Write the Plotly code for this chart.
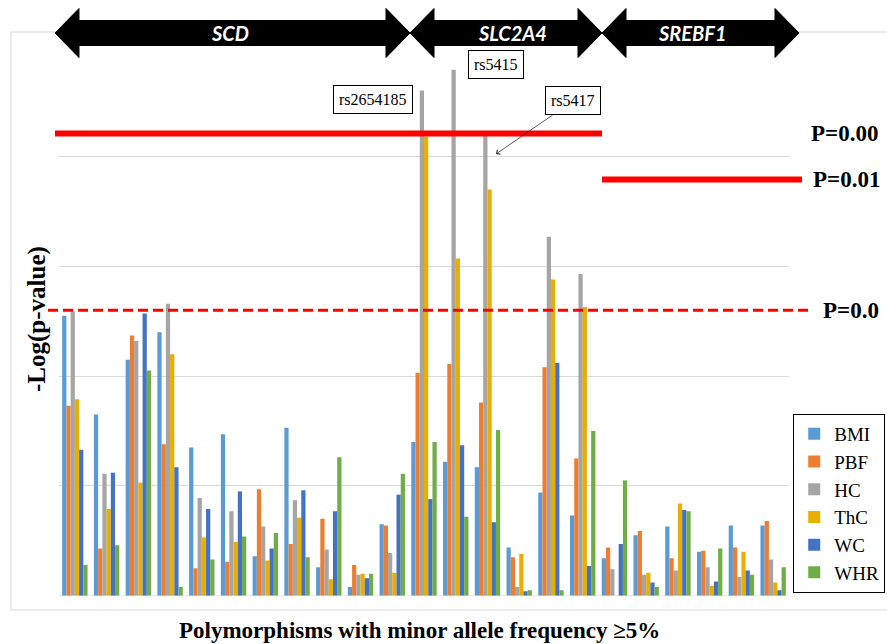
import plotly.graph_objects as go

# ---------------- data ----------------
snps = [f"SNP{i}" for i in range(1, 24)]
traits = ["BMI", "PBF", "HC", "ThC", "WC", "WHR"]
colors = ["#5B9BD5", "#ED7D31", "#A5A5A5", "#E9AE00", "#4472C4", "#70AD47"]

BMI = [2.55, 1.65, 2.15, 2.40, 1.35, 1.47, 0.36, 1.53, 0.26, 0.08, 0.65, 1.40,
       1.22, 1.17, 0.44, 0.94, 0.73, 0.34, 0.55, 0.63, 0.40, 0.64, 0.64]
PBF = [1.73, 0.43, 2.37, 1.38, 0.25, 0.31, 0.97, 0.47, 0.70, 0.28, 0.64, 2.03,
       2.11, 1.76, 0.35, 2.08, 1.25, 0.44, 0.59, 0.34, 0.41, 0.44, 0.68]
HC = [2.59, 1.11, 2.32, 2.66, 0.89, 0.77, 0.63, 0.87, 0.42, 0.19, 0.39, 4.60,
      4.79, 4.20, 0.08, 3.27, 2.93, 0.24, 0.19, 0.23, 0.26, 0.17, 0.33]
ThC = [1.79, 0.79, 1.03, 2.20, 0.53, 0.49, 0.32, 0.71, 0.15, 0.20, 0.21, 4.18,
       3.07, 3.70, 0.38, 2.88, 2.63, 0.00, 0.21, 0.84, 0.09, 0.40, 0.12]
WC = [1.33, 1.12, 2.57, 1.17, 0.79, 0.95, 0.43, 0.96, 0.77, 0.16, 0.92, 0.88,
      1.37, 0.67, 0.04, 2.12, 0.27, 0.47, 0.12, 0.78, 0.13, 0.23, 0.05]
WHR = [0.28, 0.46, 2.05, 0.08, 0.33, 0.54, 0.57, 0.35, 1.26, 0.20, 1.11, 1.40,
       0.72, 1.51, 0.05, 0.05, 1.50, 1.05, 0.08, 0.77, 0.43, 0.19, 0.26]
series = [BMI, PBF, HC, ThC, WC, WHR]

genes = ["SCD", "SLC2A4", "SREBF1"]
threshold_values = [4.21, 3.79, 2.60]
threshold_labels = ["P=0.00", "P=0.01", "P=0.0"]
snp_labels = {12: "rs2654185", 13: "rs5415", 14: "rs5417"}

W, H = 887, 644
def px(x):
    return x / W
def py(y):
    return 1 - y / H

x_idx = list(range(1, len(snps) + 1))

fig = go.Figure()
for name, vals, col in zip(traits, series, colors):
    fig.add_trace(go.Bar(x=x_idx, y=vals, name=name, marker=dict(color=col, line=dict(width=0))))

serif = "Liberation Serif, Times New Roman, serif"

fig.update_layout(
    width=W, height=H,
    margin=dict(l=0, r=0, t=0, b=0),
    paper_bgcolor="white", plot_bgcolor="white",
    barmode="group", bargap=0.2, bargroupgap=0,
    showlegend=True,
    legend=dict(x=0.998, xanchor="right", y=py(414), yanchor="top",
                bordercolor="black", borderwidth=1, bgcolor="white",
                font=dict(family=serif, size=19, color="black"),
                itemwidth=30, tracegroupgap=0),
    xaxis=dict(domain=[px(59), px(789)], range=[0.5, 23.5], showticklabels=False,
               showgrid=False, zeroline=False, showline=False, ticks=""),
    yaxis=dict(domain=[py(595.7), py(46.7)], range=[0, 5], dtick=1, showticklabels=False,
               showgrid=True, gridcolor="#D9D9D9", gridwidth=1, zeroline=False,
               showline=False, ticks=""),
)

# outer chart frame
fig.add_shape(type="rect", xref="paper", yref="paper", x0=px(11), x1=px(900), y0=py(610), y1=py(32),
              line=dict(color="#D9D9D9", width=1), layer="below")
# baseline
fig.add_shape(type="line", xref="x", yref="y", x0=0.5, x1=23.5, y0=0, y1=0,
              line=dict(color="#D9D9D9", width=1), layer="below")

# threshold lines
fig.add_shape(type="line", xref="paper", yref="y", x0=px(55), x1=px(602),
              y0=threshold_values[0], y1=threshold_values[0], line=dict(color="#FF0000", width=6))
fig.add_shape(type="line", xref="paper", yref="y", x0=px(602), x1=px(802),
              y0=threshold_values[1], y1=threshold_values[1], line=dict(color="#FF0000", width=6))
fig.add_shape(type="line", xref="paper", yref="y", x0=px(48), x1=px(810),
              y0=threshold_values[2], y1=threshold_values[2],
              line=dict(color="#FF0000", width=3, dash="10px,5px"))
for val, lab, xl in zip(threshold_values, threshold_labels, [844, 846, 851]):
    fig.add_annotation(xref="paper", yref="y", x=px(xl), y=val, text=f"<b>{lab}</b>",
                       showarrow=False, font=dict(family=serif, size=23, color="black"),
                       xanchor="center", yanchor="middle")

# gene arrows
def arrow_path(L, R, c=33, hh=24.5, sh=12.5, hl=24):
    pts = [(L, c), (L + hl, c - hh), (L + hl, c - sh), (R - hl, c - sh), (R - hl, c - hh),
           (R, c), (R - hl, c + hh), (R - hl, c + sh), (L + hl, c + sh), (L + hl, c + hh)]
    return "M " + " L ".join(f"{px(x):.5f},{py(y):.5f}" for x, y in pts) + " Z"

gene_spans = [(55, 410), (410, 602), (602, 799)]
gene_text_x = [230, 512, 692]
for g, (L, R), tx in zip(genes, gene_spans, gene_text_x):
    fig.add_shape(type="path", xref="paper", yref="paper", path=arrow_path(L, R),
                  fillcolor="black", line=dict(color="black", width=1))
    fig.add_annotation(xref="paper", yref="paper", x=px(tx), y=py(33), text=f"<b><i>{g}</i></b>",
                       showarrow=False, font=dict(family="Lato, Liberation Sans, sans-serif", size=20, color="white"),
                       xanchor="center", yanchor="middle")

# SNP labels
box_font = dict(family=serif, size=16, color="black")
fig.add_annotation(xref="paper", yref="paper", x=px(373), y=py(100), text=snp_labels[12],
                   xanchor="center", yanchor="middle",
                   showarrow=False, bordercolor="black", borderwidth=1, borderpad=5, bgcolor="white",
                   font=box_font)
fig.add_annotation(xref="paper", yref="paper", x=px(495.5), y=py(64.5), text=snp_labels[13],
                   xanchor="center", yanchor="middle",
                   showarrow=False, bordercolor="black", borderwidth=1, borderpad=5, bgcolor="white",
                   font=box_font)
fig.add_annotation(xref="paper", yref="paper", x=px(496), y=py(154), text=snp_labels[14],
                   showarrow=True, ax=77, ay=-53, arrowhead=4, arrowsize=1.3, arrowwidth=0.8,
                   arrowcolor="#333333",
                   bordercolor="black", borderwidth=1, borderpad=5, bgcolor="white", font=box_font)

# axis titles
fig.add_annotation(xref="paper", yref="paper", x=px(37), y=py(319), text="<b>-Log(p-value)</b>",
                   xanchor="center", yanchor="middle",
                   textangle=-90, showarrow=False, font=dict(family=serif, size=25, color="black"))
fig.add_annotation(xref="paper", yref="paper", x=px(419), y=py(630),
                   xanchor="center", yanchor="middle",
                   text="<b>Polymorphisms with minor allele frequency ≥5%</b>",
                   showarrow=False, font=dict(family=serif, size=23, color="black"))

fig.write_html("out.html")
